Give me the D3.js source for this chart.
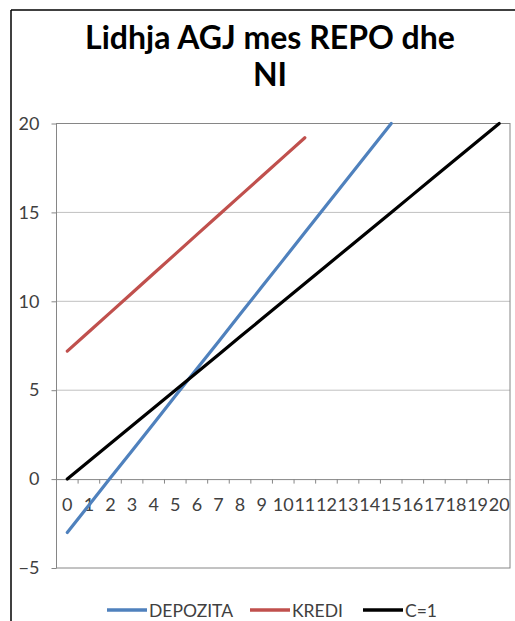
<!DOCTYPE html>
<html><head><meta charset="utf-8">
<script src="https://cdn.jsdelivr.net/npm/d3@7"></script>
<style>body{margin:0;background:#fff}svg{display:block}</style>
</head><body>
<script>
const categories = d3.range(0, 21).map(String);
const depozita = [-3, -1.47, 0.07, 1.6, 3.13, 4.67, 6.2, 7.73, 9.27, 10.8, 12.33, 13.87, 15.4, 16.93, 18.47, 20];
const kredi = [7.2, 8.29, 9.38, 10.47, 11.56, 12.65, 13.75, 14.84, 15.93, 17.02, 18.11, 19.2];
const c1 = [0, 1, 2, 3, 4, 5, 6, 7, 8, 9, 10, 11, 12, 13, 14, 15, 16, 17, 18, 19, 20];
const yTicks = [-5, 0, 5, 10, 15, 20];
const seriesNames = ["DEPOZITA", "KREDI", "C=1"];
const titleLines = ["Lidhja AGJ mes REPO dhe", "NI"];

const W = 515, H = 621;
const svg = d3.select("body").append("svg").attr("width", W).attr("height", H);
const font = "Lato, 'Open Sans', sans-serif";
const txtColor = "#404040";

// outer frame
svg.append("line").attr("x1", 11).attr("x2", 11).attr("y1", 10).attr("y2", H).attr("stroke", "#000").attr("stroke-width", 1.5);
svg.append("line").attr("x1", 11).attr("x2", W).attr("y1", 10).attr("y2", 10).attr("stroke", "#000").attr("stroke-width", 1.5);

const L = 56.5, R = 510, T = 123.5, B = 568;
const x = d3.scaleBand().domain(categories).range([L, R]).padding(0);
const y = d3.scaleLinear().domain([-5, 20]).range([B, T]);
const cx = i => x(categories[i]) + x.bandwidth() / 2;

// gridlines
svg.append("g").selectAll("line").data(yTicks.filter(d => d !== 0 && d !== -5)).join("line")
  .attr("x1", L).attr("x2", R).attr("y1", d => y(d)).attr("y2", d => y(d))
  .attr("stroke", "#c0c0c0").attr("stroke-width", 1);

// plot border
svg.append("rect").attr("x", L).attr("y", T).attr("width", R - L).attr("height", B - T)
  .attr("fill", "none").attr("stroke", "#868686").attr("stroke-width", 1);

// y axis
const yAxis = svg.append("g").attr("transform", `translate(${L},0)`)
  .call(d3.axisLeft(y).tickValues(yTicks).tickSize(5).tickPadding(12));
yAxis.select(".domain").remove();
yAxis.selectAll("line").attr("stroke", "#868686");
yAxis.selectAll("text").attr("font-family", font).attr("font-size", 18).attr("fill", txtColor);

// x axis at y=0
const xAxis = svg.append("g").attr("transform", `translate(0,${y(0)})`)
  .call(d3.axisBottom(x).tickSize(0).tickPadding(19));
xAxis.select(".domain").attr("stroke", "#868686");
xAxis.selectAll("text").attr("font-family", font).attr("font-size", 18).attr("fill", txtColor);
// boundary tick marks
svg.append("g").selectAll("line").data(categories.slice(1)).join("line")
  .attr("x1", d => x(d)).attr("x2", d => x(d)).attr("y1", y(0)).attr("y2", y(0) + 4.5)
  .attr("stroke", "#868686");

const line = d3.line().x((d, i) => cx(i)).y(d => y(d));
const series = [
  { name: seriesNames[0], data: depozita, color: "#4F81BD" },
  { name: seriesNames[1], data: kredi, color: "#C0504D" },
  { name: seriesNames[2], data: c1, color: "#000000" }
];
series.forEach(s => {
  svg.append("path").attr("d", line(s.data)).attr("fill", "none")
    .attr("stroke", s.color).attr("stroke-width", 3.2).attr("stroke-linejoin", "round").attr("stroke-linecap", "round");
});

// title
svg.append("g").selectAll("text").data(titleLines).join("text")
  .attr("x", 270).attr("y", (d, i) => 49 + i * 37)
  .attr("text-anchor", "middle").attr("font-family", font).attr("font-weight", "bold")
  .attr("font-size", 32).attr("fill", "#000").text(d => d);

// legend
const legX = [107, 250, 363];
const leg = svg.append("g").selectAll("g").data(series).join("g")
  .attr("transform", (d, i) => `translate(${legX[i]},610)`);
leg.append("line").attr("x1", 0).attr("x2", 40).attr("y1", 0).attr("y2", 0)
  .attr("stroke", d => d.color).attr("stroke-width", 3.5);
leg.append("text").attr("x", 42).attr("y", 6.5).attr("font-family", font).attr("font-size", 17.5)
  .attr("fill", txtColor).text(d => d.name);
</script>
</body></html>
